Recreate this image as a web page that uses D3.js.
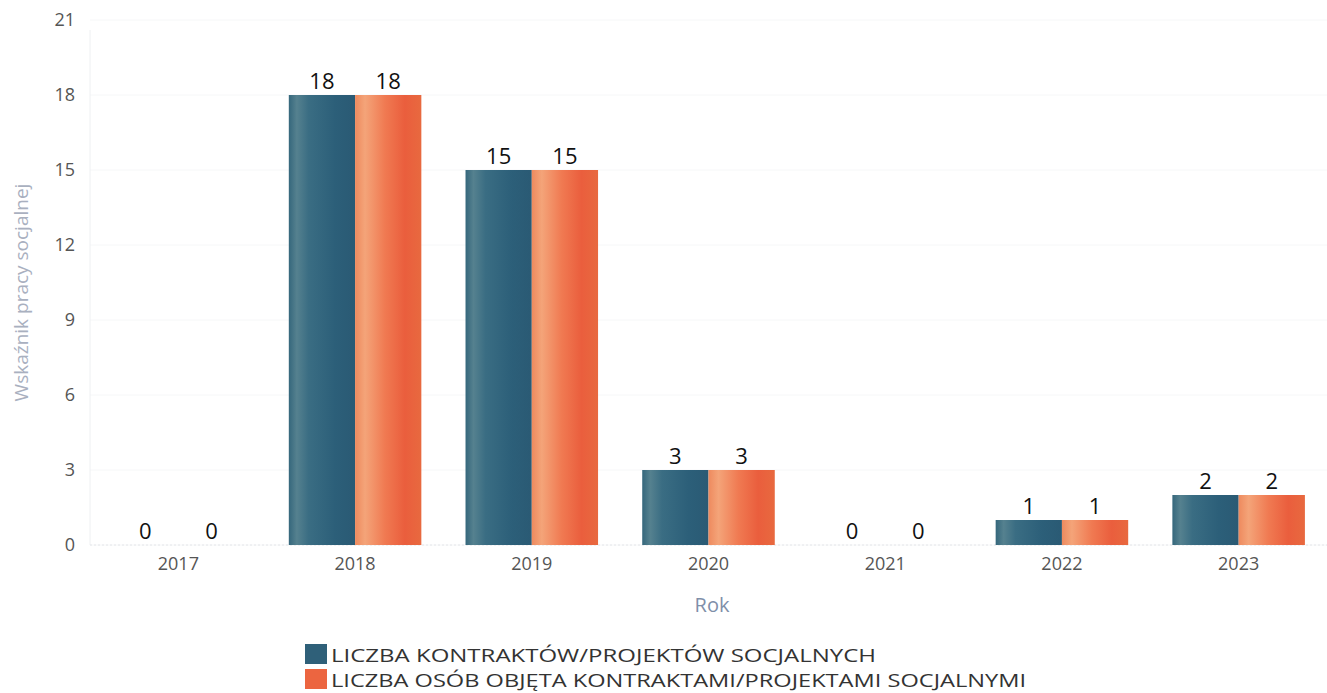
<!DOCTYPE html>
<html>
<head>
<meta charset="utf-8">
<script src="https://cdn.jsdelivr.net/npm/d3@7"></script>
<style>
  body { margin: 0; background: #fff; }
  text { font-family: "Open Sans", "DejaVu Sans", sans-serif; }
</style>
</head>
<body>
<svg id="chart" width="1327" height="693"></svg>
<script>
'use strict'

const years = ['2017', '2018', '2019', '2020', '2021', '2022', '2023']
const contracts = [0, 18, 15, 3, 0, 1, 2]
const persons = [0, 18, 15, 3, 0, 1, 2]
const seriesNames = [
  'LICZBA KONTRAKTÓW/PROJEKTÓW SOCJALNYCH',
  'LICZBA OSÓB OBJĘTA KONTRAKTAMI/PROJEKTAMI SOCJALNYMI'
]
const yTicks = [0, 3, 6, 9, 12, 15, 18, 21]

const margin = { top: 20, right: 0, bottom: 148, left: 90 }
const width = 1327 - margin.left - margin.right
const height = 693 - margin.top - margin.bottom

const svg = d3.select('#chart')
const defs = svg.append('defs')

function addGradient (id, stops) {
  const grad = defs.append('linearGradient')
    .attr('id', id)
    .attr('x1', '0%').attr('x2', '100%')
    .attr('y1', '0%').attr('y2', '0%')
  stops.forEach(s => {
    grad.append('stop').attr('offset', s[0]).attr('stop-color', s[1])
  })
}
addGradient('gBlue', [['0%', '#35677c'], ['12%', '#55818f'], ['30%', '#3a6d83'], ['70%', '#2c5f79'], ['100%', '#2a5a74']])
addGradient('gOrange', [['0%', '#ee8a5e'], ['15%', '#f4a479'], ['45%', '#f07a52'], ['75%', '#ea5e3d'], ['100%', '#e8693f']])

const colors = ['url(#gBlue)', 'url(#gOrange)']
const legendColors = ['#2f6079', '#ec6540']

const g = svg.append('g')
  .attr('transform', 'translate(' + margin.left + ',' + margin.top + ')')

const xScale = d3.scaleBand()
  .domain(years)
  .range([0, width])
  .paddingInner(0.25)
  .paddingOuter(0.125)

const xSub = d3.scaleBand()
  .domain([0, 1])
  .range([0, xScale.bandwidth()])

const yScale = d3.scaleLinear()
  .domain([0, 21])
  .range([height, 0])

// faint grid
g.append('g')
  .selectAll('line')
  .data(yTicks)
  .enter()
  .append('line')
  .attr('x1', 0)
  .attr('x2', width)
  .attr('y1', d => yScale(d))
  .attr('y2', d => yScale(d))
  .attr('stroke', '#f6f7f8')

g.append('line')
  .attr('x1', 0).attr('x2', 0)
  .attr('y1', yScale(21) + 10).attr('y2', height)
  .attr('stroke', '#eef0f2')

g.append('line')
  .attr('x1', 0).attr('x2', width)
  .attr('y1', height).attr('y2', height)
  .attr('stroke', '#e4e6ea')
  .attr('stroke-dasharray', '2,2')

// y axis
const yAxis = g.append('g')
  .call(d3.axisLeft(yScale).tickValues(yTicks).tickSize(0).tickPadding(15))
yAxis.select('.domain').remove()
yAxis.selectAll('text')
  .attr('font-size', 18)
  .attr('fill', '#555')

// x axis
const xAxis = g.append('g')
  .attr('transform', 'translate(0,' + height + ')')
  .call(d3.axisBottom(xScale).tickSize(0).tickPadding(12))
xAxis.select('.domain').remove()
xAxis.selectAll('text')
  .attr('font-size', 18)
  .attr('fill', '#555')

// bars
const series = [contracts, persons]
series.forEach((values, si) => {
  const grp = g.append('g')
  grp.selectAll('rect')
    .data(values)
    .enter()
    .append('rect')
    .attr('x', (d, i) => xScale(years[i]) + xSub(si))
    .attr('y', d => yScale(d))
    .attr('width', xSub.bandwidth())
    .attr('height', d => height - yScale(d))
    .attr('fill', colors[si])

  grp.selectAll('text')
    .data(values)
    .enter()
    .append('text')
    .attr('x', (d, i) => xScale(years[i]) + xSub(si) + xSub.bandwidth() / 2)
    .attr('y', d => yScale(d) - 6)
    .attr('text-anchor', 'middle')
    .attr('font-size', 22)
    .attr('fill', '#111')
    .text(d => d)
})

// axis titles
svg.append('text')
  .attr('transform', 'translate(28,' + (margin.top + height / 2 + 10) + ') rotate(-90)')
  .attr('text-anchor', 'middle')
  .attr('font-size', 19)
  .attr('fill', '#a9b0bf')
  .text('Wskaźnik pracy socjalnej')

svg.append('text')
  .attr('x', 712)
  .attr('y', 612)
  .attr('text-anchor', 'middle')
  .attr('font-size', 20)
  .attr('fill', '#7f8fa9')
  .text('Rok')

// legend
const legendWidths = [545, 695]
const legend = svg.append('g')
  .attr('transform', 'translate(305,644)')
seriesNames.forEach((name, i) => {
  legend.append('rect')
    .attr('x', 0)
    .attr('y', i * 25)
    .attr('width', 22)
    .attr('height', 20)
    .attr('fill', legendColors[i])
  legend.append('text')
    .attr('x', 26)
    .attr('y', i * 25 + 18)
    .attr('font-size', 19)
    .attr('font-family', '"DejaVu Sans", sans-serif')
    .attr('fill', '#333')
    .attr('textLength', legendWidths[i])
    .attr('lengthAdjust', 'spacingAndGlyphs')
    .text(name)
})
</script>
</body>
</html>
